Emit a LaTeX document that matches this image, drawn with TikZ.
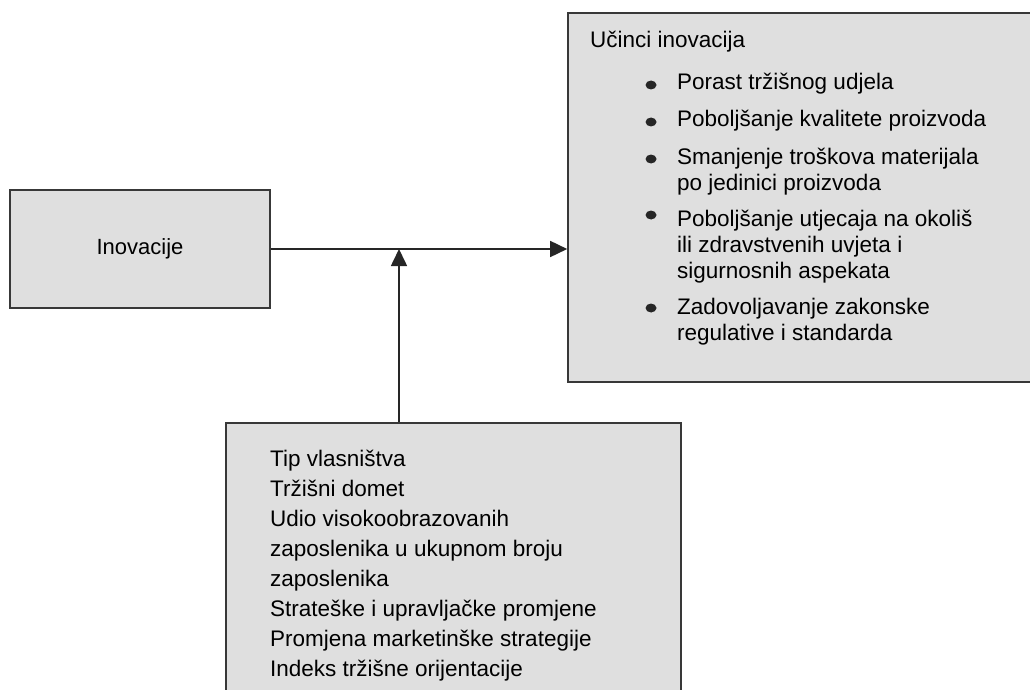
\documentclass[tikz,border=0pt]{standalone}
\usepackage{fontspec}
\setmainfont{Liberation Sans}
\usetikzlibrary{arrows.meta, shapes.geometric}

\definecolor{sivo}{HTML}{DFDFDF}
\definecolor{rub}{HTML}{383838}

\begin{document}
\begin{tikzpicture}[x=1pt, y=-1pt,
    okvir/.style={draw=rub, line width=1.6pt, fill=sivo, inner sep=0pt},
    tekst/.style={font=\fontsize{22.5}{26}\selectfont, align=left, inner sep=0pt, anchor=base west},
    tocka/.style={ellipse, fill=black!85, inner sep=0pt, minimum width=11pt, minimum height=9pt},
    veza/.style={draw=black!85, line width=1.6pt, -{Triangle[length=17pt,width=16pt]}}]

    \useasboundingbox (0,0) rectangle (1030,690);
    \clip (0,0) rectangle (1030,690);

    % okviri
    \node[okvir, minimum width=260pt, minimum height=118pt] (inov) at (140,249)
        {\fontsize{22}{26}\selectfont Inovacije};
    \node[okvir, minimum width=472pt, minimum height=369pt] (ucinci) at (804,197.5) {};
    \node[okvir, minimum width=455pt, minimum height=277pt] (faktori) at (453.5,561.5) {};

    % ucinci (sidro je osnovna linija zadnjeg retka)
    \node[tekst] (naslov) at (590,48) {Učinci inovacija};
    \node[tekst] (u1) at (677,90)  {Porast tržišnog udjela};
    \node[tekst] (u2) at (677,127) {Poboljšanje kvalitete proizvoda};
    \node[tekst] (u3) at (677,190) {Smanjenje troškova materijala\\po jedinici proizvoda};
    \node[tekst] (u4) at (677,278) {Poboljšanje utjecaja na okoliš\\ili zdravstvenih uvjeta i\\sigurnosnih aspekata};
    \node[tekst] (u5) at (677,340) {Zadovoljavanje zakonske\\regulative i standarda};

    \node[tocka] (b1) at (651,85)  {};
    \node[tocka] (b2) at (651,122) {};
    \node[tocka] (b3) at (651,159) {};
    \node[tocka] (b4) at (651,215) {};
    \node[tocka] (b5) at (651,308) {};

    % cimbenici
    \node[tekst, font=\fontsize{22.5}{29.9}\selectfont] (popis) at (270,676)
        {Tip vlasništva\\Tržišni domet\\Udio visokoobrazovanih\\zaposlenika u ukupnom broju\\zaposlenika\\Strateške i upravljačke promjene\\Promjena marketinške strategije\\Indeks tržišne orijentacije};

    % veze
    \coordinate (spoj) at (399,249);
    \draw[veza] (inov.east) -- (inov.east -| ucinci.west);
    \draw[veza] (faktori.north -| spoj) -- (spoj);

  \end{tikzpicture}
\end{document}
